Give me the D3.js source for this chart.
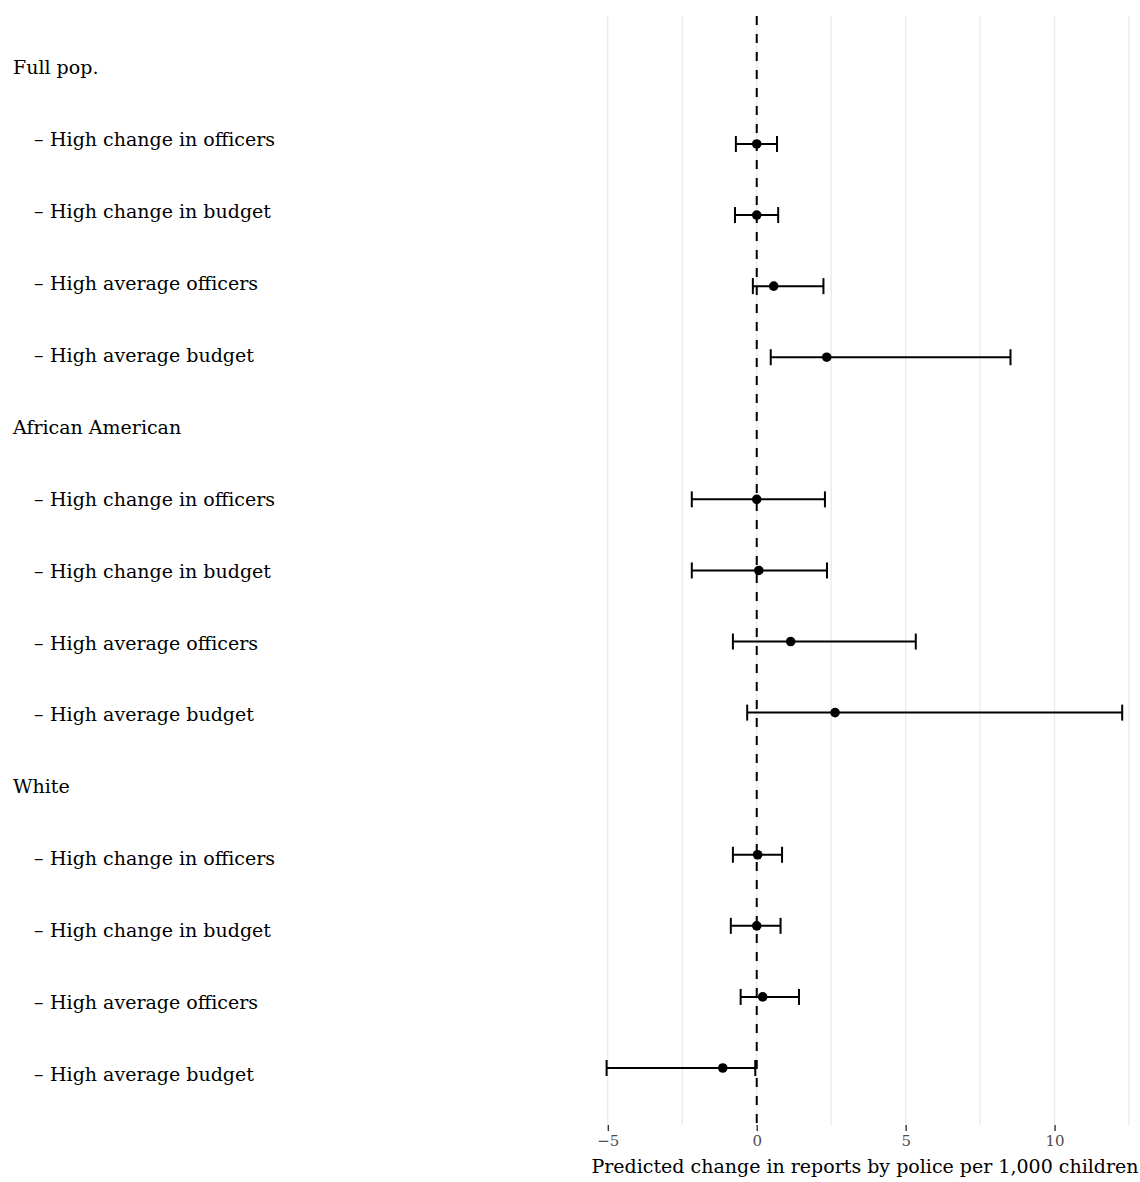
<!DOCTYPE html>
<html>
<head>
<meta charset="utf-8">
<script src="https://cdn.jsdelivr.net/npm/d3@7"></script>
<style>
  body { margin: 0; background: #fff; }
  svg { display: block; font-family: "DejaVu Serif", serif; }
</style>
</head>
<body>
<svg id="chart" width="1140" height="1182"></svg>
<script>
// rows top to bottom; group header rows have no estimate
var rowLabels = [
  "Full pop.",
  "\u2013High change in officers",
  "\u2013High change in budget",
  "\u2013High average officers",
  "\u2013High average budget",
  "African American",
  "\u2013High change in officers",
  "\u2013High change in budget",
  "\u2013High average officers",
  "\u2013High average budget",
  "White",
  "\u2013High change in officers",
  "\u2013High change in budget",
  "\u2013High average officers",
  "\u2013High average budget"
];
var isHeader = [1,0,0,0,0, 1,0,0,0,0, 1,0,0,0,0];
var estimate = [null, 0.00, 0.00, 0.57, 2.35, null, 0.00, 0.07, 1.14, 2.63, null, 0.03, 0.00, 0.20, -1.14];
var ciLow    = [null, -0.70, -0.73, -0.13, 0.47, null, -2.18, -2.18, -0.80, -0.32, null, -0.80, -0.87, -0.54, -5.04];
var ciHigh   = [null, 0.68, 0.72, 2.24, 8.52, null, 2.29, 2.36, 5.34, 12.27, null, 0.85, 0.80, 1.42, -0.05];
var xTicks = [-5, 0, 5, 10];
var gridVals = [-5, -2.5, 0, 2.5, 5, 7.5, 10, 12.5];
var xTitle = "Predicted change in reports by police per 1,000 children";

var svg = d3.select("#chart");
var panelTop = 16, panelBottom = 1125;

var x = d3.scaleLinear().domain([-5.9, 13.17]).range([581, 1149]);
// labels and estimates sit on slightly different row grids (separate panels)
var yLab = d3.scalePoint().domain(d3.range(rowLabels.length)).range([68, 1075]);
var yPt = d3.scalePoint().domain(d3.range(rowLabels.length)).range([72.9, 1068]);

// grid lines
svg.append("g").selectAll("line")
  .data(gridVals).enter()
  .append("line")
  .attr("x1", function(d) { return x(d); })
  .attr("x2", function(d) { return x(d); })
  .attr("y1", panelTop)
  .attr("y2", panelBottom)
  .attr("stroke", "#ebebeb")
  .attr("stroke-width", 1.4);

// x axis (ticks + labels)
var axis = svg.append("g")
  .attr("transform", "translate(0," + panelBottom + ")")
  .call(d3.axisBottom(x).tickValues(xTicks).tickSize(6).tickPadding(4)
    .tickFormat(function(d) { return d < 0 ? "\u2212" + Math.abs(d) : d; }));
axis.select(".domain").remove();
axis.selectAll(".tick line").attr("stroke", "#333").attr("stroke-width", 1.4);
axis.selectAll(".tick text")
  .attr("fill", "#4d4d4d")
  .style("font-size", "15px")
  .style("font-family", "'DejaVu Serif', serif");

svg.append("text")
  .attr("x", (581 + 1149) / 2)
  .attr("y", 1173)
  .attr("text-anchor", "middle")
  .style("font-size", "19px")
  .attr("fill", "#000")
  .text(xTitle);

// zero reference line
svg.append("line")
  .attr("x1", x(0)).attr("x2", x(0))
  .attr("y1", panelTop).attr("y2", panelBottom)
  .attr("stroke", "#000")
  .attr("stroke-width", 2)
  .attr("stroke-dasharray", "9,9");

// row labels
var lab = svg.append("g").selectAll("text")
  .data(rowLabels).enter()
  .append("text")
  .attr("y", function(d, i) { return yLab(i); })
  .attr("dy", "0.32em")
  .style("font-size", "19px")
  .attr("fill", "#000");

lab.filter(function(d, i) { return isHeader[i]; })
  .attr("x", 13)
  .text(function(d) { return d; });

var sub = lab.filter(function(d, i) { return !isHeader[i]; });
sub.append("tspan").attr("x", 34).text(function(d) { return d.charAt(0); });
sub.append("tspan").attr("x", 50).text(function(d) { return d.slice(1); });

// estimates with CIs
var rows = d3.range(rowLabels.length).filter(function(i) { return !isHeader[i]; });
var est = svg.append("g").selectAll("g")
  .data(rows).enter()
  .append("g");

est.append("line")
  .attr("x1", function(i) { return x(ciLow[i]); })
  .attr("x2", function(i) { return x(ciHigh[i]); })
  .attr("y1", function(i) { return yPt(i); })
  .attr("y2", function(i) { return yPt(i); })
  .attr("stroke", "#000").attr("stroke-width", 2);

[ciLow, ciHigh].forEach(function(arr) {
  est.append("line")
    .attr("x1", function(i) { return x(arr[i]); })
    .attr("x2", function(i) { return x(arr[i]); })
    .attr("y1", function(i) { return yPt(i) - 8; })
    .attr("y2", function(i) { return yPt(i) + 8; })
    .attr("stroke", "#000").attr("stroke-width", 2);
});

est.append("circle")
  .attr("cx", function(i) { return x(estimate[i]); })
  .attr("cy", function(i) { return yPt(i); })
  .attr("r", 4.8)
  .attr("fill", "#000");
</script>
</body>
</html>
